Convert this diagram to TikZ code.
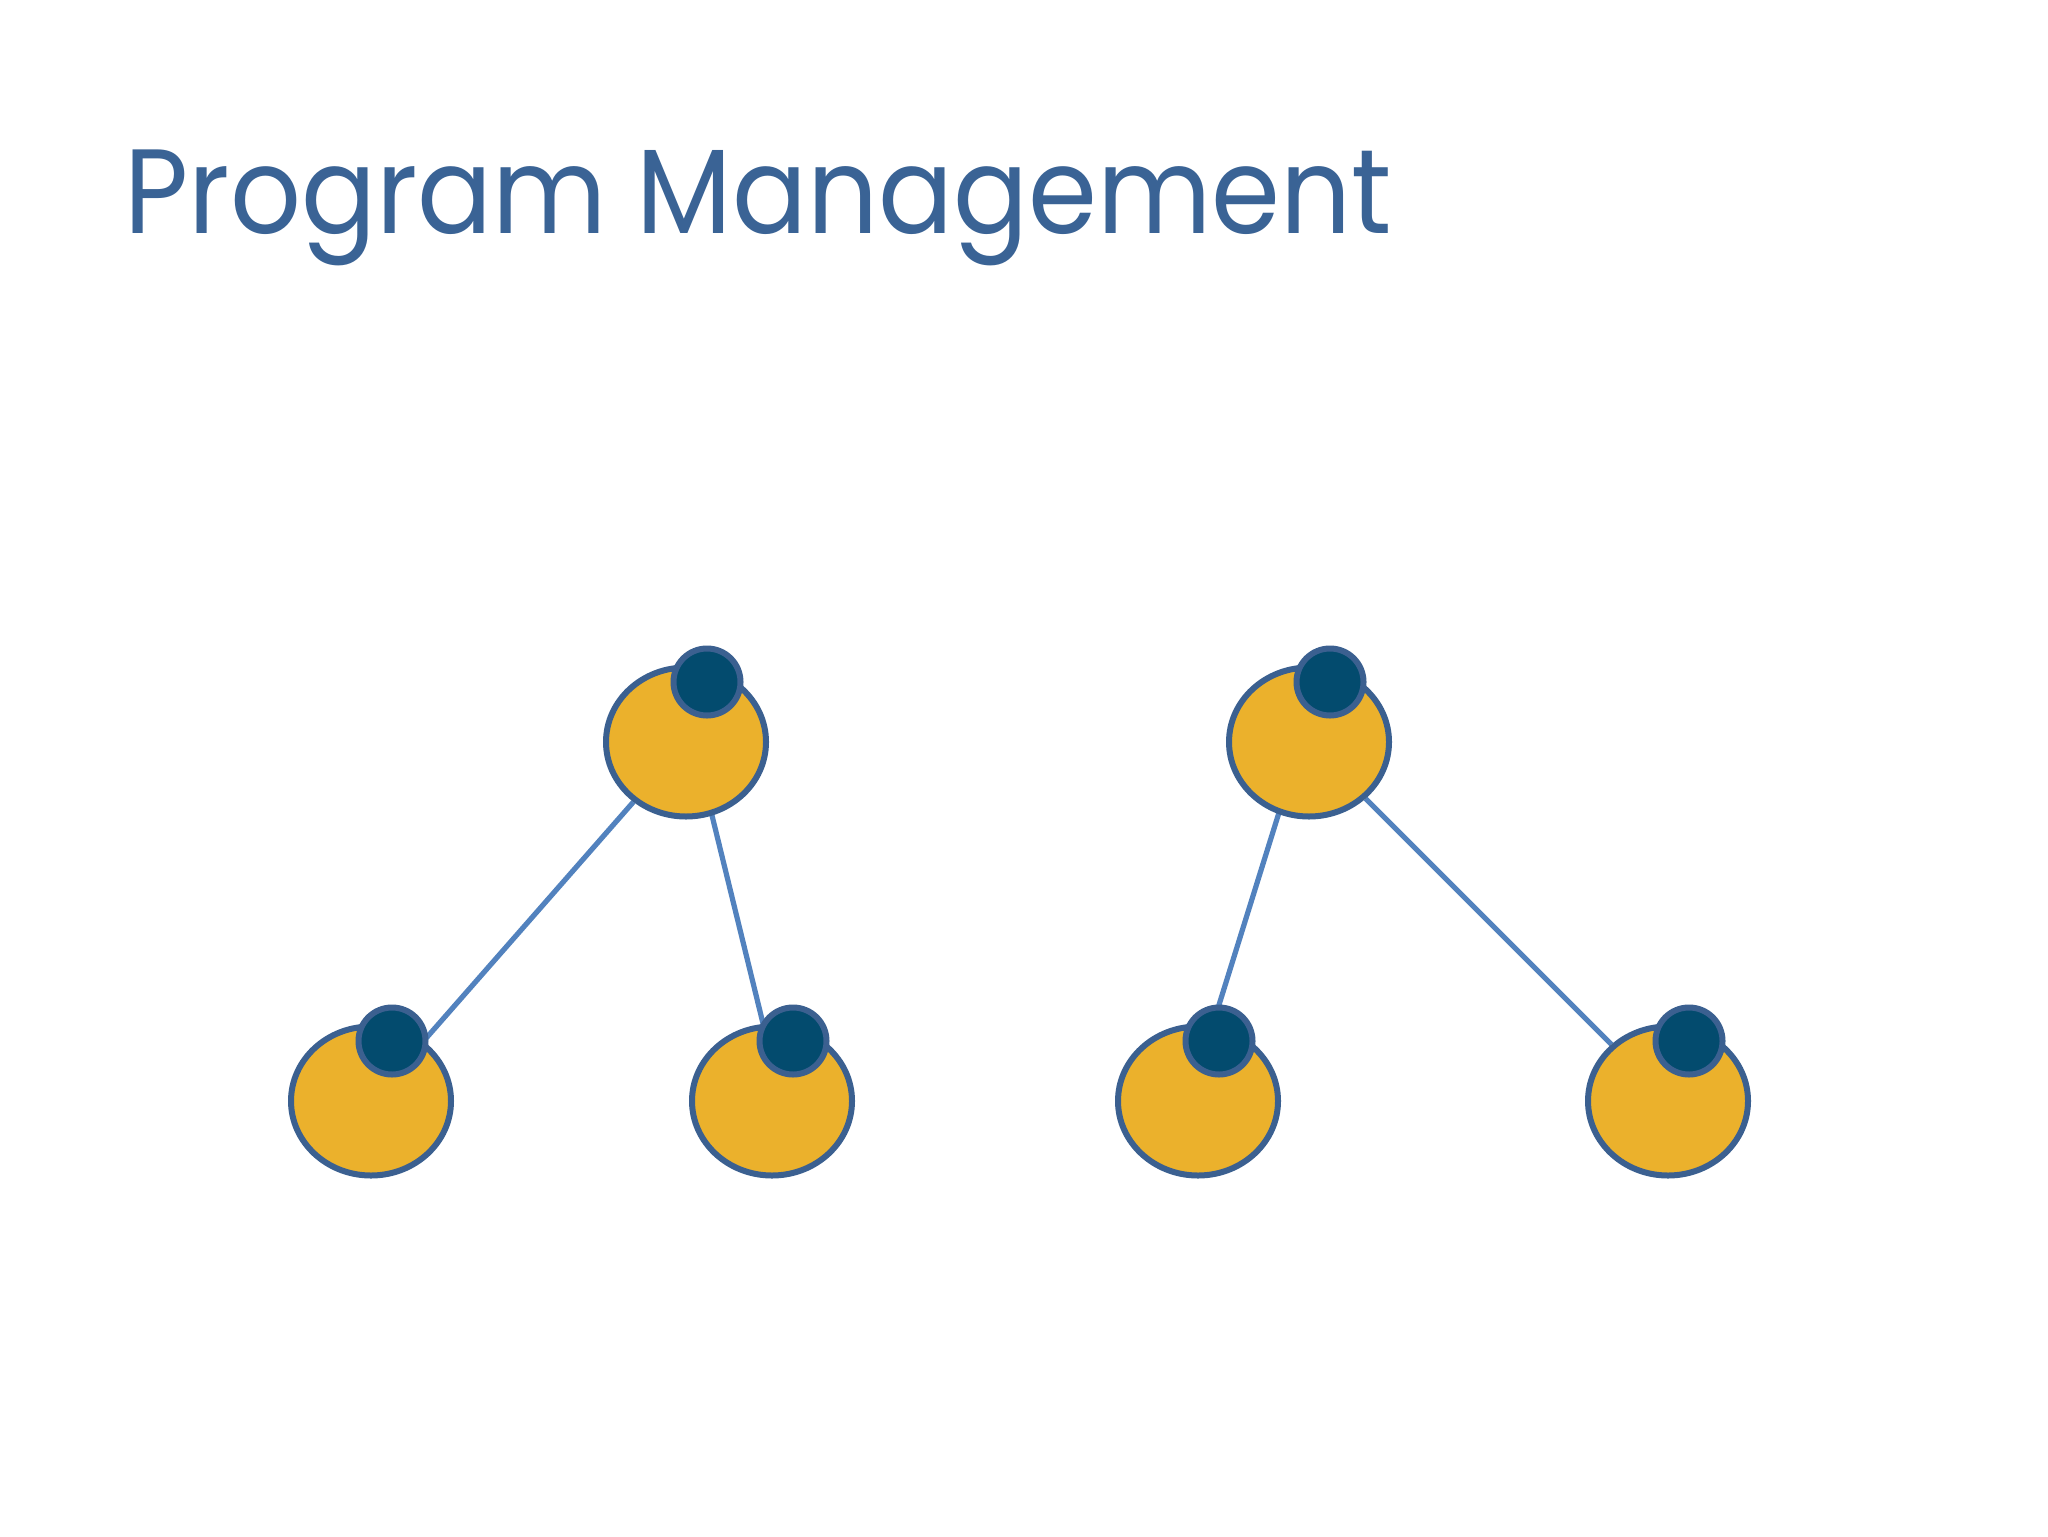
\documentclass[tikz,border=0pt]{standalone}
\usepackage{fontspec}
\newfontfamily\titlefont{Poppins}
\usetikzlibrary{shapes.geometric,calc,backgrounds}
\definecolor{titleblue}{HTML}{3A6395}
\definecolor{ringblue}{HTML}{3B6090}
\definecolor{edgeblue}{HTML}{5282BE}
\definecolor{gold}{HTML}{EBB12C}
\definecolor{navy}{HTML}{034B6E}
\tikzset{
  bigball/.style={ellipse, draw=ringblue, line width=3pt, fill=gold, minimum width=80pt, minimum height=74.5pt, inner sep=0pt},
  knob/.style={circle, draw=ringblue, line width=3pt, fill=navy, minimum size=33.5pt, inner sep=0pt},
  edge/.style={draw=edgeblue, line width=2.6pt},
  titletext/.style={anchor=base west, inner sep=0pt, text=titleblue, font=\titlefont\fontsize{60}{62}\selectfont}
}
\begin{document}
\begin{tikzpicture}[x=0.5pt,y=-0.5pt]
\useasboundingbox (0,0) rectangle (2048,1536);
\node[titletext] (title) at (124,233) {\scalebox{0.925}[1]{Program Management}};
% big circles
\node[bigball] (p1) at (686,742) {};
\node[bigball] (c1) at (371,1101) {};
\node[bigball] (c2) at (772,1101) {};
\node[bigball] (p2) at (1309,742) {};
\node[bigball] (c3) at (1198,1101) {};
\node[bigball] (c4) at (1668,1101) {};
% knobs
\foreach \n in {p1,c1,c2,p2,c3,c4}{
  \node[knob] (k\n) at ($(\n)+(21,-60)$) {};
}
\begin{scope}[on background layer]
\fill[white] (0,0) rectangle (2048,1536);
\draw[edge] (p1) -- (c1);
\draw[edge] ($(p1)+(8,0)$) -- ($(c2)+(10,0)$);
\draw[edge] ($(p2)+(-8,0)$) -- ($(c3)+(-9,0)$);
\draw[edge] (p2) -- (c4);
\end{scope}
\end{tikzpicture}
\end{document}
